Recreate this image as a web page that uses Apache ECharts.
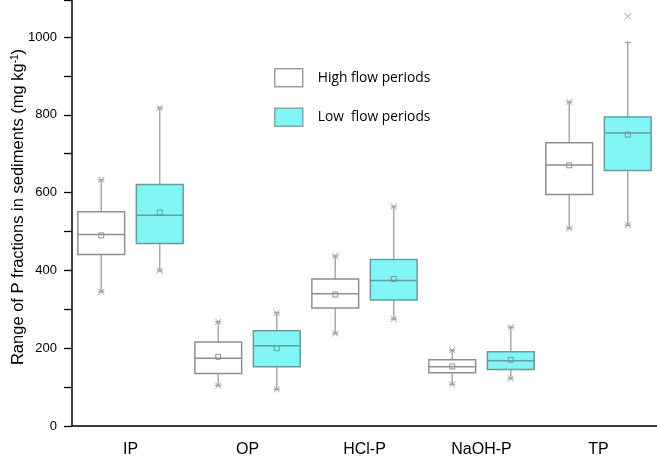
<!DOCTYPE html>
<html>
<head>
<meta charset="utf-8">
<script src="https://cdn.jsdelivr.net/npm/echarts@6/dist/echarts.min.js"></script>
<style>
html,body{margin:0;padding:0;background:#fff;}
#main{width:657px;height:457px;}
</style>
</head>
<body>
<div id="main"></div>
<script>
// ---- data ----
const categories = ['IP', 'OP', 'HCl-P', 'NaOH-P', 'TP'];
const seriesNames = ['High flow periods', 'Low  flow periods'];
const yTicks = [0, 200, 400, 600, 800, 1000];

// High flow periods
const highMin       = [345, 104, 238, 107, 508];
const highWhiskLo   = [345, 104, 238, 107, 508];
const highQ1        = [441, 135, 303, 137, 595];
const highMedian    = [492, 174, 340, 152, 671];
const highQ3        = [551, 216, 378, 170, 728];
const highWhiskHi   = [633, 268, 437, 195, 833];
const highMax       = [633, 268, 437, 195, 833];
const highMean      = [490, 178, 338, 153, 670];

// Low flow periods
const lowMin        = [399, 94, 275, 122, 517];
const lowWhiskLo    = [399, 94, 275, 122, 516];
const lowQ1         = [469, 152, 324, 145, 657];
const lowMedian     = [542, 206, 374, 168, 753];
const lowQ3         = [621, 245, 428, 191, 794];
const lowWhiskHi    = [818, 291, 564, 254, 986];
const lowMax        = [818, 291, 564, 254, 1053];
const lowMean       = [549, 200, 378, 170, 749];

// ---- build ----
const boxCats = [];
categories.forEach(c => { boxCats.push(c + ' H'); boxCats.push(c + ' L'); });

function buildData(offset, mn, wl, q1, md, q3, wh, mx, mean) {
  return categories.map((c, i) => [i * 2 + offset, mn[i], wl[i], q1[i], md[i], q3[i], wh[i], mx[i], mean[i]]);
}
const highData = buildData(0, highMin, highWhiskLo, highQ1, highMedian, highQ3, highWhiskHi, highMax, highMean);
const lowData  = buildData(1, lowMin, lowWhiskLo, lowQ1, lowMedian, lowQ3, lowWhiskHi, lowMax, lowMean);

const styles = {
  high: { fill: '#ffffff', border: '#8f8f8f' },
  low:  { fill: '#82f6f6', border: '#6a9a9a' }
};
const whiskerColor = '#a9a9a9';
const markColor = '#a0a0a0';

function makeRender(st) {
  return function (params, api) {
    const x = api.value(0);
    const band = api.size([1, 0])[0];
    const half = band * 0.4;
    const pMin = api.coord([x, api.value(1)]);
    const pWl  = api.coord([x, api.value(2)]);
    const pQ1  = api.coord([x, api.value(3)]);
    const pMd  = api.coord([x, api.value(4)]);
    const pQ3  = api.coord([x, api.value(5)]);
    const pWh  = api.coord([x, api.value(6)]);
    const pMax = api.coord([x, api.value(7)]);
    const pMean = api.coord([x, api.value(8)]);
    const cx = pQ1[0];
    const cap = 3;
    const xs = 3;
    const ms = 2.5;
    const lineStyle = { stroke: whiskerColor, lineWidth: 1.5 };
    const markStyle = { stroke: markColor, lineWidth: 1 };
    const children = [
      { type: 'line', shape: { x1: cx, y1: pQ3[1], x2: cx, y2: pWh[1] }, style: lineStyle },
      { type: 'line', shape: { x1: cx, y1: pQ1[1], x2: cx, y2: pWl[1] }, style: lineStyle },
      { type: 'line', shape: { x1: cx - cap, y1: pWh[1], x2: cx + cap, y2: pWh[1] }, style: lineStyle },
      { type: 'line', shape: { x1: cx - cap, y1: pWl[1], x2: cx + cap, y2: pWl[1] }, style: lineStyle },
      { type: 'line', shape: { x1: cx - xs, y1: pMax[1] - xs, x2: cx + xs, y2: pMax[1] + xs }, style: markStyle },
      { type: 'line', shape: { x1: cx - xs, y1: pMax[1] + xs, x2: cx + xs, y2: pMax[1] - xs }, style: markStyle },
      { type: 'line', shape: { x1: cx - xs, y1: pMin[1] - xs, x2: cx + xs, y2: pMin[1] + xs }, style: markStyle },
      { type: 'line', shape: { x1: cx - xs, y1: pMin[1] + xs, x2: cx + xs, y2: pMin[1] - xs }, style: markStyle },
      { type: 'rect', shape: { x: cx - half, y: pQ3[1], width: half * 2, height: pQ1[1] - pQ3[1] },
        style: { fill: st.fill, stroke: st.border, lineWidth: 1.5 } },
      { type: 'line', shape: { x1: cx - half, y1: pMd[1], x2: cx + half, y2: pMd[1] },
        style: { stroke: st.border, lineWidth: 1.5 } },
      { type: 'rect', shape: { x: cx - ms, y: pMean[1] - ms, width: ms * 2, height: ms * 2 },
        style: { fill: 'none', stroke: st.border, lineWidth: 1 } }
    ];
    return { type: 'group', children: children };
  };
}

const chart = echarts.init(document.getElementById('main'), null, { renderer: 'canvas' });
const FONT = "'Liberation Sans', Arial, sans-serif";
chart.setOption({
  animation: false,
  backgroundColor: '#ffffff',
  grid: { left: 72, right: 0, top: 0, bottom: 31, containLabel: false, outerBoundsMode: 'none' },
  legend: {
    orient: 'vertical',
    left: 274,
    top: 68,
    padding: 0,
    itemWidth: 28,
    itemHeight: 18,
    itemGap: 20,
    textStyle: { fontFamily: "'Open Sans', sans-serif", fontSize: 13.8, color: '#000', padding: [0, 0, 0, 10] },
    data: [
      { name: seriesNames[0], icon: 'rect', itemStyle: { color: styles.high.fill, borderColor: '#a0a0a0', borderWidth: 1.5 } },
      { name: seriesNames[1], icon: 'rect', itemStyle: { color: styles.low.fill, borderColor: '#7aabab', borderWidth: 1.5 } }
    ]
  },
  xAxis: [
    {
      type: 'category',
      data: boxCats,
      boundaryGap: true,
      axisLine: { lineStyle: { color: '#000', width: 1.5 } },
      axisTick: { alignWithLabel: true, length: 7, lineStyle: { color: '#000', width: 1.3 } },
      axisLabel: { show: false },
      splitLine: { show: false }
    },
    {
      type: 'category',
      data: categories,
      position: 'bottom',
      boundaryGap: true,
      axisLine: { show: false },
      axisTick: { show: false },
      axisLabel: { fontFamily: FONT, fontSize: 16, color: '#000', margin: 16 },
      splitLine: { show: false }
    }
  ],
  yAxis: {
    type: 'value',
    min: 0,
    max: 1095,
    interval: 200,
    axisLine: { show: true, lineStyle: { color: '#000', width: 1.5 } },
    axisTick: { show: true, length: 8, lineStyle: { color: '#000', width: 1.3 } },
    minorTick: { show: true, splitNumber: 2, length: 8, lineStyle: { color: '#000', width: 1.3 } },
    splitLine: { show: false },
    axisLabel: {
      fontFamily: FONT, fontSize: 13, color: '#000', margin: 15,
      formatter: function (v) { return yTicks.indexOf(v) >= 0 ? String(v) : ''; }
    },
    name: '{a|Range of P fractions in sediments (mg kg}{s|-1}{a|)}',
    nameLocation: 'middle',
    nameRotate: 90,
    nameGap: 45,
    nameMoveOverlap: false,
    nameTextStyle: {
      padding: [0, 0, 0, 12],
      rich: {
        a: { fontFamily: FONT, fontSize: 16.5, color: '#000' },
        s: { fontFamily: FONT, fontSize: 10, color: '#000', verticalAlign: 'top' }
      }
    }
  },
  series: [
    {
      name: seriesNames[0],
      type: 'custom',
      xAxisIndex: 0,
      renderItem: makeRender(styles.high),
      encode: { x: 0, y: [1, 2, 3, 4, 5, 6, 7, 8] },
      itemStyle: { color: styles.high.fill, borderColor: '#a0a0a0' },
      data: highData
    },
    {
      name: seriesNames[1],
      type: 'custom',
      xAxisIndex: 0,
      renderItem: makeRender(styles.low),
      encode: { x: 0, y: [1, 2, 3, 4, 5, 6, 7, 8] },
      itemStyle: { color: styles.low.fill, borderColor: '#7aabab' },
      data: lowData
    }
  ]
});
</script>
</body>
</html>
